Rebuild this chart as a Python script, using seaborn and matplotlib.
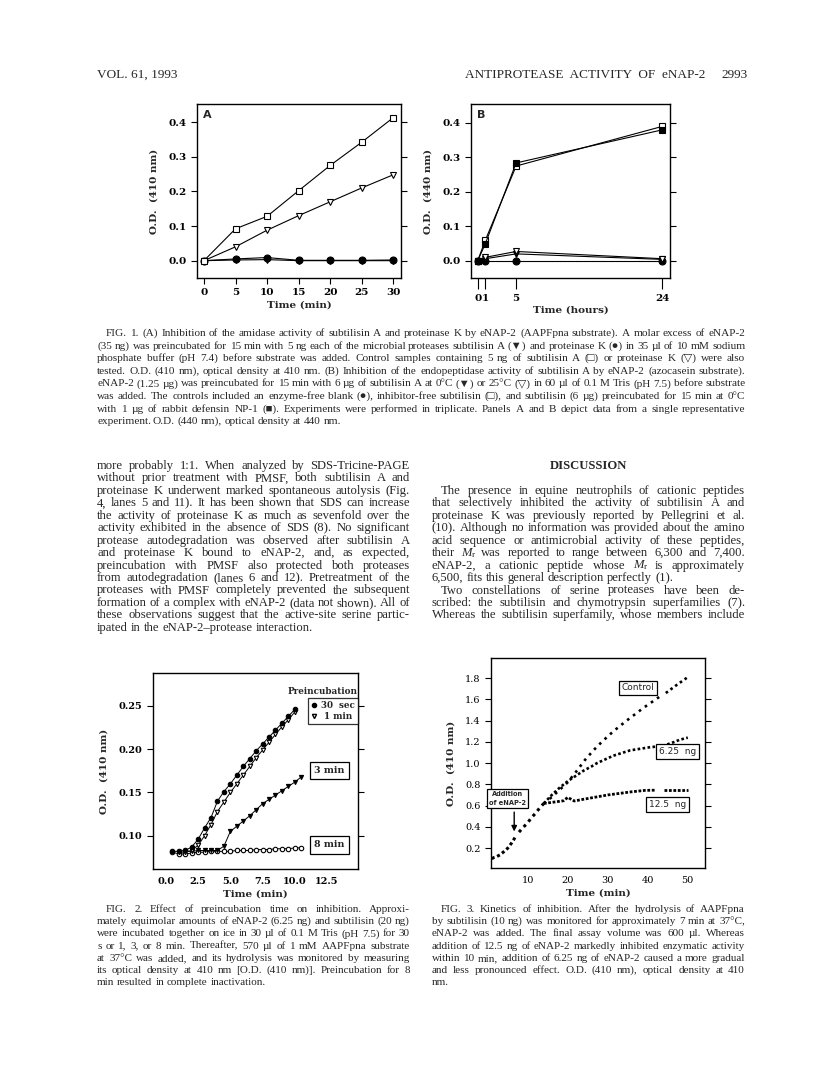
import seaborn as sns
import matplotlib.pyplot as plt
from matplotlib.font_manager import FontProperties
from matplotlib.textpath import TextToPath
from matplotlib.lines import Line2D

sns.set_style("ticks")
plt.rcParams['font.family'] = ['Liberation Serif', 'DejaVu Sans']
plt.rcParams['mathtext.fontset'] = 'custom'
plt.rcParams['mathtext.rm'] = 'Liberation Serif'
plt.rcParams['mathtext.it'] = 'Liberation Serif:italic'

W, H = 816, 1084

# ---------------- data ----------------
# Fig. 1A  (time in min)
t1a = [0, 5, 10, 15, 20, 25, 30]
a_subA_ctrl = [0.0, 0.092, 0.128, 0.202, 0.275, 0.342, 0.413]   # open squares
a_protK_ctrl = [0.0, 0.040, 0.088, 0.130, 0.170, 0.210, 0.248]  # open triangles
a_subA_inh = [0.0, 0.002, 0.003, 0.0, 0.0, 0.0, 0.0]            # filled triangles
a_protK_inh = [0.0, 0.005, 0.009, 0.001, 0.001, 0.001, 0.002]   # filled circles

# Fig. 1B  (time in hours)
t1b = [0, 1, 5, 24]
b_subtilisin = [0.0, 0.060, 0.275, 0.390]   # open squares
b_defensin = [0.0, 0.050, 0.284, 0.380]     # filled squares
b_inh_25 = [0.0, 0.010, 0.027, 0.006]       # open triangles
b_inh_0 = [0.0, 0.006, 0.020, 0.004]        # filled triangles
b_blank = [0.0, 0.0, 0.0, 0.0]              # filled circles

# Fig. 2  (time in min)
t2_30s = [0.5, 1.0, 1.5, 2.0, 2.5, 3.0, 3.5, 4.0, 4.5, 5.0, 5.5, 6.0, 6.5, 7.0,
          7.5, 8.0, 8.5, 9.0, 9.5, 10.0]
od_30s = [0.082, 0.082, 0.083, 0.087, 0.096, 0.109, 0.121, 0.140, 0.151, 0.160,
          0.170, 0.180, 0.189, 0.198, 0.206, 0.214, 0.222, 0.230, 0.238, 0.246]
t2_1m = [1.0, 1.5, 2.0, 2.5, 3.0, 3.5, 4.0, 4.5, 5.0, 5.5, 6.0, 6.5, 7.0, 7.5,
         8.0, 8.5, 9.0, 9.5, 10.0]
od_1m = [0.081, 0.081, 0.083, 0.089, 0.100, 0.113, 0.128, 0.139, 0.150, 0.160,
         0.170, 0.180, 0.190, 0.199, 0.208, 0.217, 0.226, 0.234, 0.243]
t2_3m = [1.5, 2.0, 2.5, 3.0, 3.5, 4.0, 4.5, 5.0, 5.5, 6.0, 6.5, 7.0, 7.5, 8.0,
         8.5, 9.0, 9.5, 10.0, 10.5]
od_3m = [0.082, 0.082, 0.083, 0.083, 0.083, 0.083, 0.088, 0.105, 0.111, 0.117,
         0.123, 0.130, 0.137, 0.142, 0.147, 0.152, 0.157, 0.162, 0.168]
t2_8m = [0.5, 1.0, 1.5, 2.0, 2.5, 3.0, 3.5, 4.0, 4.5, 5.0, 5.5, 6.0, 6.5, 7.0,
         7.5, 8.0, 8.5, 9.0, 9.5, 10.0, 10.5]
od_8m = [0.081, 0.079, 0.079, 0.080, 0.081, 0.081, 0.082, 0.082, 0.082, 0.082,
         0.083, 0.083, 0.083, 0.084, 0.084, 0.084, 0.085, 0.085, 0.085, 0.086, 0.086]

# Fig. 3  (time in min)
t3_pre = [1.0, 1.5, 2.0, 2.5, 3.0, 3.5, 4.0, 4.5, 5.0, 5.5, 6.0, 6.5, 6.8]
od_pre = [0.10, 0.11, 0.115, 0.125, 0.135, 0.15, 0.165, 0.18, 0.20, 0.225, 0.25, 0.28, 0.30]
t3_post = [7.8, 8.5, 9.0, 10.0, 11.0, 12.0, 13.0, 14.0]
od_post = [0.35, 0.38, 0.40, 0.44, 0.49, 0.53, 0.58, 0.62]
t3_ctrl = [14, 16, 18, 20, 22.3, 24.3, 26.4, 28.5, 31.4, 34.7, 38.9, 43.5]
od_ctrl = [0.62, 0.68, 0.75, 0.82, 0.93, 1.03, 1.12, 1.20, 1.30, 1.40, 1.52, 1.64]
t3_ctrl_end = [44.5, 47, 50]
od_ctrl_end = [1.66, 1.73, 1.81]
t3_625 = [14, 16, 18, 20, 22, 24, 26, 27.3, 31.4, 35.6, 40.6, 43.5, 46, 48, 50]
od_625 = [0.62, 0.70, 0.77, 0.83, 0.88, 0.93, 0.97, 1.00, 1.07, 1.12, 1.15, 1.16, 1.19, 1.22, 1.24]
t3_125 = [14, 16, 18.9, 20, 21.6, 24, 27, 30, 33, 36, 39.3, 42]
od_125 = [0.62, 0.63, 0.645, 0.677, 0.643, 0.66, 0.68, 0.70, 0.715, 0.73, 0.743, 0.745]
t3_125_end = [44, 46, 48, 50]
od_125_end = [0.748, 0.748, 0.748, 0.748]

# ---------------- text ----------------
header_left = "VOL. 61, 1993"
header_right = "ANTIPROTEASE  ACTIVITY  OF  eNAP-2"
page_no = "2993"

cap1 = [
    "FIG. 1. (A) Inhibition of the amidase activity of subtilisin A and proteinase K by eNAP-2 (AAPFpna substrate). A molar excess of eNAP-2",
    "(35 ng) was preincubated for 15 min with 5 ng each of the microbial proteases subtilisin A (\u25BC) and proteinase K (\u25CF) in 35 \u00b5l of 10 mM sodium",
    "phosphate buffer (pH 7.4) before substrate was added. Control samples containing 5 ng of subtilisin A (\u25A1) or proteinase K (\u25BD) were also",
    "tested. O.D. (410 nm), optical density at 410 nm. (B) Inhibition of the endopeptidase activity of subtilisin A by eNAP-2 (azocasein substrate).",
    "eNAP-2 (1.25 \u00b5g) was preincubated for 15 min with 6 \u00b5g of subtilisin A at 0\u00b0C (\u25BC) or 25\u00b0C (\u25BD) in 60 \u00b5l of 0.1 M Tris (pH 7.5) before substrate",
    "was added. The controls included an enzyme-free blank (\u25CF), inhibitor-free subtilisin (\u25A1), and subtilisin (6 \u00b5g) preincubated for 15 min at 0\u00b0C",
    "with 1 \u00b5g of rabbit defensin NP-1 (\u25A0). Experiments were performed in triplicate. Panels A and B depict data from a single representative",
    "experiment. O.D. (440 nm), optical density at 440 nm.",
]

body_left = [
    "more probably 1:1. When analyzed by SDS-Tricine-PAGE",
    "without prior treatment with PMSF, both subtilisin A and",
    "proteinase K underwent marked spontaneous autolysis (Fig.",
    "4, lanes 5 and 11). It has been shown that SDS can increase",
    "the activity of proteinase K as much as sevenfold over the",
    "activity exhibited in the absence of SDS (8). No significant",
    "protease autodegradation was observed after subtilisin A",
    "and proteinase K bound to eNAP-2, and, as expected,",
    "preincubation with PMSF also protected both proteases",
    "from autodegradation (lanes 6 and 12). Pretreatment of the",
    "proteases with PMSF completely prevented the subsequent",
    "formation of a complex with eNAP-2 (data not shown). All of",
    "these observations suggest that the active-site serine partic-",
    "ipated in the eNAP-2\u2013protease interaction.",
]

disc_p1 = [
    "The presence in equine neutrophils of cationic peptides",
    "that selectively inhibited the activity of subtilisin A and",
    "proteinase K was previously reported by Pellegrini et al.",
    "(10). Although no information was provided about the amino",
    "acid sequence or antimicrobial activity of these peptides,",
    r"their $M_\mathrm{r}$ was reported to range between 6,300 and 7,400.",
    r"eNAP-2, a cationic peptide whose $M_\mathrm{r}$ is approximately",
    "6,500, fits this general description perfectly (1).",
]
disc_p2 = [
    "Two constellations of serine proteases have been de-",
    "scribed: the subtilisin and chymotrypsin superfamilies (7).",
    "Whereas the subtilisin superfamily, whose members include",
]

cap2 = [
    "FIG. 2. Effect of preincubation time on inhibition. Approxi-",
    "mately equimolar amounts of eNAP-2 (6.25 ng) and subtilisin (20 ng)",
    "were incubated together on ice in 30 \u00b5l of 0.1 M Tris (pH 7.5) for 30",
    "s or 1, 3, or 8 min. Thereafter, 570 \u00b5l of 1 mM AAPFpna substrate",
    "at 37\u00b0C was added, and its hydrolysis was monitored by measuring",
    "its optical density at 410 nm [O.D. (410 nm)]. Preincubation for 8",
    "min resulted in complete inactivation.",
]
cap3 = [
    "FIG. 3. Kinetics of inhibition. After the hydrolysis of AAPFpna",
    "by subtilisin (10 ng) was monitored for approximately 7 min at 37\u00b0C,",
    "eNAP-2 was added. The final assay volume was 600 \u00b5l. Whereas",
    "addition of 12.5 ng of eNAP-2 markedly inhibited enzymatic activity",
    "within 10 min, addition of 6.25 ng of eNAP-2 caused a more gradual",
    "and less pronounced effect. O.D. (410 nm), optical density at 410",
    "nm.",
]

# ---------------- helpers ----------------
fig = plt.figure(figsize=(W / 100, H / 100), dpi=100)
t2p = TextToPath()
SERIF = ['Liberation Serif', 'DejaVu Sans']


def fp_(size, weight='normal', family=None):
    return FontProperties(family=family or SERIF, size=size, weight=weight)


def wpx(s, fp):
    w, _, _ = t2p.get_text_width_height_descent(s, fp, ismath='$' in s)
    return w * 100 / 72


def fit_size(lines, width, base=10.0, indent=0):
    fp = fp_(base)
    widest = max(wpx(l, fp) + (indent if i == 0 else 0)
                 for i, l in enumerate(lines) if '$' not in l)
    return base * width / widest


def justify(lines, x0, x1, y_first, dy, fs, indent_first=0, last_free=True):
    fp = fp_(fs)
    space = wpx('x x', fp) - 2 * wpx('x', fp)
    for i, line in enumerate(lines):
        xs = x0 + (indent_first if i == 0 else 0)
        words = line.split(' ')
        ws = [wpx(w, fp) for w in words]
        if (last_free and i == len(lines) - 1) or len(words) == 1:
            gap = space
        else:
            gap = (x1 - xs - sum(ws)) / (len(words) - 1)
        x = xs
        for w, ww in zip(words, ws):
            fig.text(x / W, 1 - (y_first + i * dy) / H, w, fontproperties=fp,
                     va='baseline', ha='left')
            x += ww + gap


def add_ax(l, t, r, b):
    return fig.add_axes([l / W, 1 - b / H, (r - l) / W, (b - t) / H])


def style_ax(ax, tickfp, labfp, ylabel, xlabel):
    for s in ax.spines.values():
        s.set_color('black')
        s.set_linewidth(1.0)
    ax.tick_params(direction='out', length=4, width=0.8, colors='black',
                   right=True, labelright=False, top=False)
    for lab in ax.get_xticklabels() + ax.get_yticklabels():
        lab.set_fontproperties(tickfp)
    ax.set_ylabel(ylabel, fontproperties=labfp, labelpad=7)
    ax.set_xlabel(xlabel, fontproperties=labfp, labelpad=2)


def series(ax, x, y, marker, filled, ms=5, lw=0.8, **kw):
    sns.lineplot(x=x, y=y, ax=ax, color='black', lw=lw, marker=marker, ms=ms,
                 mfc='black' if filled else 'white', mec='black', mew=0.8,
                 errorbar=None, legend=False, **kw)


tick_fp = fp_(7.5, 'bold', ['DejaVu Serif'])
lab_fp = fp_(7.5, 'bold', ['DejaVu Serif'])

# ---------------- header ----------------
hfp = fp_(9.5)
fig.text(97 / W, 1 - 78 / H, header_left, fontproperties=hfp)
fig.text(705 / W, 1 - 78 / H, header_right, fontproperties=hfp, ha='right')
fig.text(748 / W, 1 - 78 / H, page_no, fontproperties=hfp, ha='right')

# ---------------- Fig. 1A ----------------
axA = add_ax(197, 104, 401, 278)
series(axA, t1a, a_subA_inh, 'v', True)
series(axA, t1a, a_protK_inh, 'o', True)
series(axA, t1a, a_protK_ctrl, 'v', False)
series(axA, t1a, a_subA_ctrl, 's', False)
axA.set_xlim(-1.1, 31.2)
axA.set_ylim(-0.05, 0.452)
axA.set_xticks([0, 5, 10, 15, 20, 25, 30])
axA.set_yticks([0.0, 0.1, 0.2, 0.3, 0.4])
axA.set_yticklabels(['0.0', '0.1', '0.2', '0.3', '0.4'])
style_ax(axA, tick_fp, lab_fp, 'O.D.  (410 nm)', 'Time (min)')
axA.text(0.03, 0.965, 'A', transform=axA.transAxes, ha='left', va='top',
         fontproperties=fp_(8, 'bold', ['DejaVu Sans']))

# ---------------- Fig. 1B ----------------
axB = add_ax(471, 104, 670, 278)
series(axB, t1b, b_blank, 'o', True)
series(axB, t1b, b_inh_0, 'v', True)
series(axB, t1b, b_inh_25, 'v', False)
series(axB, t1b, b_subtilisin, 's', False)
series(axB, t1b, b_defensin, 's', True)
axB.set_xlim(-0.87, 25.0)
axB.set_ylim(-0.05, 0.455)
axB.set_xticks(t1b)
axB.set_xticklabels(['0', '1', '5', '24'])
axB.set_yticks([0.0, 0.1, 0.2, 0.3, 0.4])
axB.set_yticklabels(['0.0', '0.1', '0.2', '0.3', '0.4'])
style_ax(axB, tick_fp, lab_fp, 'O.D.  (440 nm)', 'Time (hours)')
axB.tick_params(axis='x', length=8)
axB.text(0.03, 0.965, 'B', transform=axB.transAxes, ha='left', va='top',
         fontproperties=fp_(8, 'bold', ['DejaVu Sans']))

# ---------------- captions / body ----------------
cap1_fs = fit_size(cap1[:-1], 745 - 97, indent=9)
justify(cap1, 97, 745, 336, 12.6, cap1_fs, indent_first=9)

body_fs = min(fit_size(body_left[:-1], 410 - 97),
              fit_size(disc_p1[:-1], 745 - 432, indent=9))
justify(body_left, 97, 410, 469, 12.45, body_fs, last_free=True)
fig.text(588 / W, 1 - 469 / H, 'DISCUSSION', fontproperties=fp_(body_fs, 'bold'),
         ha='center', va='baseline')
justify(disc_p1, 432, 745, 469 + 2 * 12.45, 12.45, body_fs, indent_first=9)
justify(disc_p2, 432, 745, 469 + 10 * 12.45, 12.45, body_fs, indent_first=9,
        last_free=False)

cap23_fs = min(fit_size(cap2[:-1], 410 - 97, indent=9),
               fit_size(cap3[:-1], 745 - 432, indent=9))
justify(cap2, 97, 410, 912, 12.2, cap23_fs, indent_first=9)
justify(cap3, 432, 745, 912, 12.2, cap23_fs, indent_first=9)

# ---------------- Fig. 2 ----------------
ax2 = add_ax(153, 673, 358, 869)
series(ax2, t2_8m, od_8m, 'o', False, ms=3.2, lw=0.7)
series(ax2, t2_3m, od_3m, 'v', True, ms=3.0, lw=0.7)
series(ax2, t2_1m, od_1m, 'v', False, ms=3.2, lw=0.7)
series(ax2, t2_30s, od_30s, 'o', True, ms=3.2, lw=0.7)
ax2.set_xlim(-1.0, 14.9)
ax2.set_ylim(0.0616, 0.288)
ax2.set_xticks([0.0, 2.5, 5.0, 7.5, 10.0, 12.5])
ax2.set_xticklabels(['0.0', '2.5', '5.0', '7.5', '10.0', '12.5'])
ax2.set_yticks([0.10, 0.15, 0.20, 0.25])
ax2.set_yticklabels(['0.10', '0.15', '0.20', '0.25'])
style_ax(ax2, fp_(7, 'bold', ['DejaVu Serif']), lab_fp, 'O.D.  (410 nm)', 'Time (min)')
ax2.tick_params(axis='x', length=0, pad=6)

small_fp = fp_(6.3, 'bold', ['DejaVu Serif'])
ax2.text(1.0, 0.885, 'Preincubation', transform=ax2.transAxes, ha='right',
         va='bottom', fontproperties=small_fp)
handles = [Line2D([], [], ls='none', marker='o', ms=3, mfc='black', mec='black'),
           Line2D([], [], ls='none', marker='v', ms=3, mfc='white', mec='black')]
leg = ax2.legend(handles, ['30  sec', ' 1 min'], loc='upper right',
                 bbox_to_anchor=(1.0, 0.872), frameon=True, fancybox=False,
                 handlelength=0.6, handletextpad=0.5, borderpad=0.35,
                 labelspacing=0.25, borderaxespad=0, prop=small_fp)
leg.get_frame().set_edgecolor('black')
leg.get_frame().set_linewidth(0.9)

box_kw = dict(boxstyle='square,pad=0.45', fc='white', ec='black', lw=0.9)
ax2.text(12.7, 0.1755, '3 min', ha='center', va='center',
         fontproperties=fp_(6.8, 'bold', ['DejaVu Serif']), bbox=box_kw)
ax2.text(12.7, 0.0894, '8 min', ha='center', va='center',
         fontproperties=fp_(6.8, 'bold', ['DejaVu Serif']), bbox=box_kw)

# ---------------- Fig. 3 ----------------
ax3 = add_ax(491, 658, 705, 868)
dot_dense = (0, (1, 0.9))
sns.lineplot(x=t3_pre, y=od_pre, ax=ax3, color='black', lw=2.2,
             linestyle=dot_dense, errorbar=None, legend=False)
sns.lineplot(x=t3_post, y=od_post, ax=ax3, color='black', lw=2.2,
             linestyle=(0, (1, 1.3)), errorbar=None, legend=False)
sns.lineplot(x=t3_ctrl, y=od_ctrl, ax=ax3, color='black', lw=1.9,
             linestyle=(0, (1, 1.8)), errorbar=None, legend=False)
sns.lineplot(x=t3_ctrl_end, y=od_ctrl_end, ax=ax3, color='black', lw=1.9,
             linestyle=(0, (1, 1.2)), errorbar=None, legend=False)
sns.lineplot(x=t3_625, y=od_625, ax=ax3, color='black', lw=1.9,
             linestyle=dot_dense, errorbar=None, legend=False)
sns.lineplot(x=t3_125, y=od_125, ax=ax3, color='black', lw=2.0,
             linestyle=(0, (1, 0.6)), errorbar=None, legend=False)
sns.lineplot(x=t3_125_end, y=od_125_end, ax=ax3, color='black', lw=2.0,
             linestyle=(0, (1, 0.6)), errorbar=None, legend=False)
ax3.set_xlim(0.8, 54.3)
ax3.set_ylim(0.012, 1.99)
ax3.set_xticks([10, 20, 30, 40, 50])
ax3.set_yticks([0.2, 0.4, 0.6, 0.8, 1.0, 1.2, 1.4, 1.6, 1.8])
ax3.set_yticklabels(['0.2', '0.4', '0.6', '0.8', '1.0', '1.2', '1.4', '1.6', '1.8'])
style_ax(ax3, fp_(7, 'normal', ['DejaVu Serif']), lab_fp, 'O.D.  (410 nm)', 'Time (min)')
ax3.tick_params(axis='x', length=0, pad=6)

lab3 = fp_(6.5, 'normal', ['DejaVu Sans'])
box3 = dict(boxstyle='square,pad=0.3', fc='white', ec='black', lw=0.9)
ax3.text(37.5, 1.71, 'Control', ha='center', va='center', fontproperties=lab3, bbox=box3)
ax3.text(47.4, 1.11, '6.25  ng', ha='center', va='center', fontproperties=lab3, bbox=box3)
ax3.text(45.0, 0.61, '12.5  ng', ha='center', va='center', fontproperties=lab3, bbox=box3)
ax3.text(4.9, 0.665, 'Addition\nof eNAP-2', ha='center', va='center',
         fontproperties=fp_(4.8, 'bold', ['DejaVu Sans']), linespacing=1.5,
         bbox=dict(boxstyle='square,pad=0.35', fc='white', ec='black', lw=0.9))
ax3.annotate('', xy=(6.6, 0.33), xytext=(6.6, 0.565),
             arrowprops=dict(arrowstyle='-|>', color='black', lw=1.0,
                             mutation_scale=8))

fig.savefig('out.png', dpi=100, facecolor='white')
